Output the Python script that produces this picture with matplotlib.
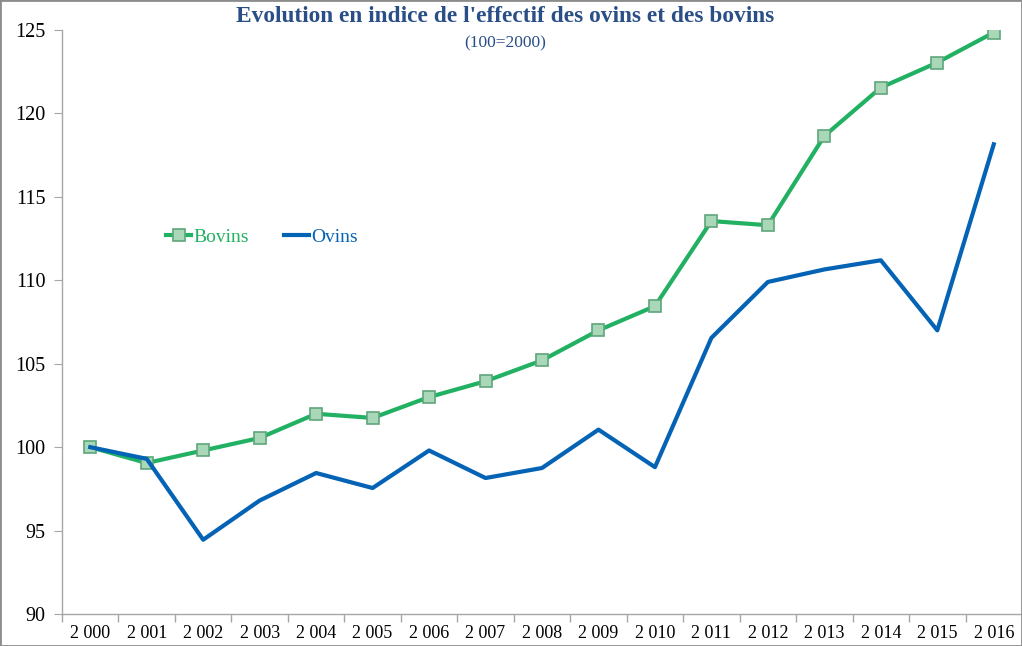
import numpy as np
import matplotlib.pyplot as plt
from matplotlib.patches import Rectangle

years = ["2 000", "2 001", "2 002", "2 003", "2 004", "2 005", "2 006", "2 007", "2 008",
         "2 009", "2 010", "2 011", "2 012", "2 013", "2 014", "2 015", "2 016"]
bovins = [100.0, 99.05, 99.8, 100.55, 102.0, 101.75, 103.0, 103.95, 105.2,
          107.0, 108.45, 113.55, 113.3, 118.65, 121.55, 123.05, 124.85]
ovins = [100.0, 99.3, 94.45, 96.8, 98.45, 97.55, 99.8, 98.15, 98.75,
         101.05, 98.8, 106.55, 109.9, 110.65, 111.2, 107.0, 118.15]

plt.rcParams['font.family'] = ['Liberation Serif', 'DejaVu Serif']

fig = plt.figure(figsize=(10.22, 6.46), dpi=100)
ax = fig.add_axes([62/1022, 32/646, 1 - 62/1022, (614-30)/646])

x = np.arange(len(years))
green = '#22B163'
blue = '#0563B5'
ax.plot(x, bovins, color=green, lw=3, marker='s', ms=9, mfc='#A8D8B8',
        mec='#5FA57A', mew=1.2, label='Bovins', zorder=3)
ax.plot(x, ovins, color=blue, lw=3, label='Ovins', zorder=4)

ax.set_ylim(90, 125)
ax.set_yticks([90, 95, 100, 105, 110, 115, 120, 125])
ax.set_xlim(-0.5, len(years) - 0.5)
ax.set_xticks(x)
ax.set_xticklabels(years)
ax.set_xticks(np.arange(-0.5, len(years)), minor=True)
ax.tick_params(axis='x', which='major', length=0, labelsize=13, pad=8)
ax.tick_params(axis='x', which='minor', length=6, color='#A6A6A6', width=1)
ax.tick_params(axis='y', length=6, color='#A6A6A6', labelsize=14.5, pad=6)
for s in ['top', 'right']:
    ax.spines[s].set_visible(False)
for s in ['left', 'bottom']:
    ax.spines[s].set_color('#A6A6A6')
    ax.spines[s].set_linewidth(1)

leg = ax.legend(loc='upper left', bbox_to_anchor=(0.09, 0.69), ncol=2, frameon=False,
                fontsize=14, handlelength=1.3, handletextpad=0.1, columnspacing=1.8)
for t, c in zip(leg.get_texts(), [green, blue]):
    t.set_color(c)

fig.text(505/1022, 1 - 17/646, "Evolution en indice de l'effectif des ovins et des bovins",
         ha='center', va='center', fontsize=16.8, fontweight='bold', color='#2A4F86')
fig.text(505/1022, 1 - 43/646, "(100=2000)", ha='center', va='center',
         fontsize=12.5, color='#2A4F86')

fig.patches.append(Rectangle((0, 0), 1, 1, transform=fig.transFigure, fill=False,
                             edgecolor='#8C8C8C', lw=2))

fig.savefig('out.png', dpi=100)
